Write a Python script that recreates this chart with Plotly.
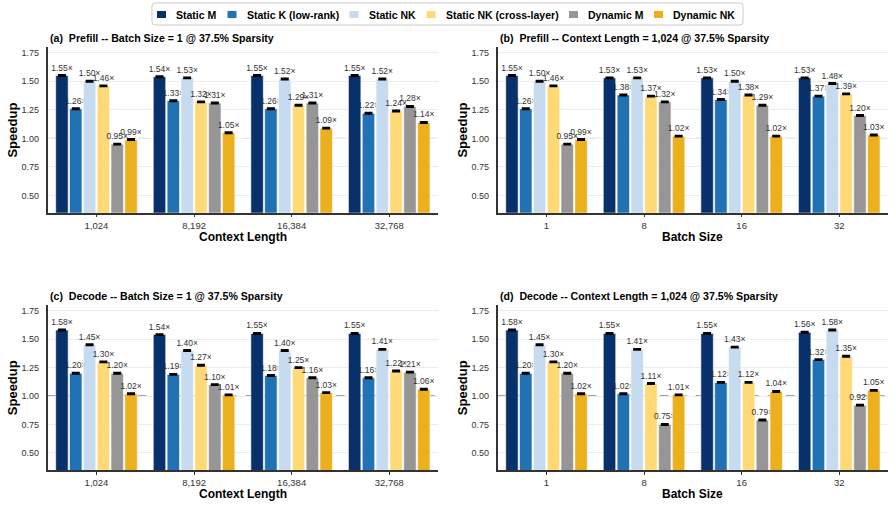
import plotly.graph_objects as go

series_names = ["Static M", "Static K (low-rank)", "Static NK", "Static NK (cross-layer)", "Dynamic M", "Dynamic NK"]
colors = ["#08306b", "#2171b5", "#c6dbef", "#fed976", "#969696", "#ecb01f"]

ctx_labels = ["1,024", "8,192", "16,384", "32,768"]
bs_labels = ["1", "8", "16", "32"]

# (a) Prefill -- Batch Size = 1
a_static_m = [1.55, 1.54, 1.55, 1.55]
a_static_k = [1.26, 1.33, 1.26, 1.22]
a_static_nk = [1.50, 1.53, 1.52, 1.52]
a_static_nk_cl = [1.46, 1.32, 1.29, 1.24]
a_dyn_m = [0.95, 1.31, 1.31, 1.28]
a_dyn_nk = [0.99, 1.05, 1.09, 1.14]

# (b) Prefill -- Context Length = 1,024
b_static_m = [1.55, 1.53, 1.53, 1.53]
b_static_k = [1.26, 1.38, 1.34, 1.37]
b_static_nk = [1.50, 1.53, 1.50, 1.48]
b_static_nk_cl = [1.46, 1.37, 1.38, 1.39]
b_dyn_m = [0.95, 1.32, 1.29, 1.20]
b_dyn_nk = [0.99, 1.02, 1.02, 1.03]

# (c) Decode -- Batch Size = 1
c_static_m = [1.58, 1.54, 1.55, 1.55]
c_static_k = [1.20, 1.19, 1.18, 1.16]
c_static_nk = [1.45, 1.40, 1.40, 1.41]
c_static_nk_cl = [1.30, 1.27, 1.25, 1.22]
c_dyn_m = [1.20, 1.10, 1.16, 1.21]
c_dyn_nk = [1.02, 1.01, 1.03, 1.06]

# (d) Decode -- Context Length = 1,024
d_static_m = [1.58, 1.55, 1.55, 1.56]
d_static_k = [1.20, 1.02, 1.12, 1.32]
d_static_nk = [1.45, 1.41, 1.43, 1.58]
d_static_nk_cl = [1.30, 1.11, 1.12, 1.35]
d_dyn_m = [1.20, 0.75, 0.79, 0.92]
d_dyn_nk = [1.02, 1.01, 1.04, 1.05]

err = [0.004, 0.004, 0.004, 0.004]

panels = [
    ("(a)  Prefill -- Batch Size = 1 @ 37.5% Sparsity", ctx_labels, "Context Length",
     [a_static_m, a_static_k, a_static_nk, a_static_nk_cl, a_dyn_m, a_dyn_nk]),
    ("(b)  Prefill -- Context Length = 1,024 @ 37.5% Sparsity", bs_labels, "Batch Size",
     [b_static_m, b_static_k, b_static_nk, b_static_nk_cl, b_dyn_m, b_dyn_nk]),
    ("(c)  Decode -- Batch Size = 1 @ 37.5% Sparsity", ctx_labels, "Context Length",
     [c_static_m, c_static_k, c_static_nk, c_static_nk_cl, c_dyn_m, c_dyn_nk]),
    ("(d)  Decode -- Context Length = 1,024 @ 37.5% Sparsity", bs_labels, "Batch Size",
     [d_static_m, d_static_k, d_static_nk, d_static_nk_cl, d_dyn_m, d_dyn_nk]),
]

W, H = 895, 507
x_doms = [[47.7 / W, 438 / W], [497.7 / W, 888 / W]]
y_doms = [[(H - 212.7) / H, (H - 47) / H], [(H - 470) / H, (H - 305) / H]]

# legend layout (pixel positions of the swatches)
legend_swatch_x = [157, 227.5, 349.5, 426.5, 569, 654]
legend_box = (152, 3, 743, 25)

FONT = "Liberation Sans, Arial, Helvetica, sans-serif"
fig = go.Figure()
layout = {}
annotations = []
shapes = []

for p, (title, cats, xtitle, series) in enumerate(panels):
    row, col = divmod(p, 2)
    idx = "" if p == 0 else str(p + 1)
    xa, ya = "x" + idx, "y" + idx
    for s, vals in enumerate(series):
        fig.add_trace(go.Bar(
            x=cats, y=vals, name=series_names[s], xaxis=xa, yaxis=ya,
            marker=dict(color=colors[s], line=dict(color="white", width=0.6)),
            error_y=dict(type="data", array=err, color="black", thickness=2, width=4),
            text=[f"{v:.2f}×" for v in vals], textposition="outside",
            textfont=dict(size=8.5, color="#333333", family=FONT),
            constraintext="none", cliponaxis=False,
            showlegend=False, legendgroup=series_names[s],
        ))
    layout["xaxis" + idx] = dict(
        domain=x_doms[col], anchor=ya, type="category", range=[-0.5, 3.5],
        showline=True, linecolor="#333333", linewidth=1.5, layer="below traces",
        ticks="outside", ticklen=3, tickcolor="#333333", showgrid=False,
        tickfont=dict(size=9.5, color="#333333", family=FONT), fixedrange=True,
    )
    layout["yaxis" + idx] = dict(
        domain=y_doms[row], anchor=xa, range=[0.35, 1.8],
        tickvals=[0.5, 0.75, 1.0, 1.25, 1.5, 1.75], ticktext=["0.50", "0.75", "1.00", "1.25", "1.50", "1.75"],
        showline=True, linecolor="#333333", linewidth=1.5, showgrid=True, gridcolor="#ececec", gridwidth=0.8,
        zeroline=False, ticks="", ticklabelstandoff=5,
        tickfont=dict(size=9, color="#333333", family=FONT), layer="below traces",
    )
    xd, yd = x_doms[col], y_doms[row]
    annotations.append(dict(text="<b>" + title + "</b>", xref="paper", yref="paper",
                            x=xd[0] + 0.5 / W, y=yd[1] + 9 / H, xanchor="left", yanchor="middle",
                            showarrow=False, font=dict(size=10.6, color="black", family=FONT)))
    annotations.append(dict(text="<b>" + xtitle + "</b>", xref="paper", yref="paper",
                            x=(xd[0] + xd[1]) / 2, y=yd[0] - 24 / H, xanchor="center", yanchor="middle",
                            showarrow=False, font=dict(size=12, color="black", family=FONT)))
    annotations.append(dict(text="<b>Speedup</b>", xref="paper", yref="paper", textangle=-90,
                            x=xd[0] - 35 / W, y=(yd[0] + yd[1]) / 2, xanchor="center", yanchor="middle",
                            showarrow=False, font=dict(size=13, color="black", family=FONT)))
    shapes.append(dict(type="line", xref=xa + " domain", yref=ya, x0=0, x1=1, y0=1.0, y1=1.0,
                       line=dict(color="#444444", width=1, dash="dash"), layer="below"))

# legend: rounded box, swatches and labels
bx0, by0, bx1, by1 = legend_box
r = 3.0
def P(px, py):
    return f"{px / W:.6f},{1 - py / H:.6f}"
box_path = (f"M {P(bx0 + r, by0)} L {P(bx1 - r, by0)} Q {P(bx1, by0)} {P(bx1, by0 + r)} "
            f"L {P(bx1, by1 - r)} Q {P(bx1, by1)} {P(bx1 - r, by1)} "
            f"L {P(bx0 + r, by1)} Q {P(bx0, by1)} {P(bx0, by1 - r)} "
            f"L {P(bx0, by0 + r)} Q {P(bx0, by0)} {P(bx0 + r, by0)} Z")
shapes.append(dict(type="path", xref="paper", yref="paper", path=box_path,
                   line=dict(color="#cccccc", width=1), fillcolor="white", layer="above"))
ly = (by0 + by1) / 2 + 0.5
for s, name in enumerate(series_names):
    sx = legend_swatch_x[s]
    shapes.append(dict(type="rect", xref="paper", yref="paper",
                       x0=sx / W, x1=(sx + 9) / W, y0=1 - (ly + 3.5) / H, y1=1 - (ly - 3.5) / H,
                       line=dict(width=0), fillcolor=colors[s], layer="above"))
    annotations.append(dict(text="<b>" + name + "</b>", xref="paper", yref="paper",
                            x=(sx + 17) / W, y=1 - ly / H, xanchor="left", yanchor="middle",
                            showarrow=False, font=dict(size=10.5, color="black", family=FONT)))

fig.update_layout(
    **layout,
    width=W, height=H, margin=dict(l=0, r=0, t=0, b=0),
    paper_bgcolor="white", plot_bgcolor="white",
    barmode="group", bargap=0.15, bargroupgap=0.1,
    annotations=annotations, shapes=shapes,
    font=dict(family=FONT), showlegend=False,
)

fig.write_html("out.html")
